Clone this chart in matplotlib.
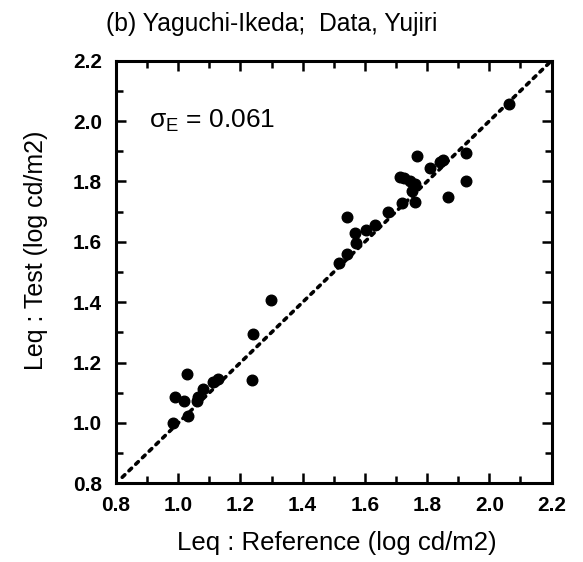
import matplotlib
matplotlib.use("Agg")
import matplotlib.pyplot as plt
from matplotlib.ticker import MultipleLocator

plt.rcParams['font.family'] = ['Liberation Sans', 'DejaVu Sans']

title = "(b) Yaguchi-Ikeda;  Data, Yujiri"
xlabel = "Leq : Reference (log cd/m2)"
ylabel = "Leq : Test (log cd/m2)"
sigma_text = r"$\mathregular{\sigma_E}$ = 0.061"

ref_vals = [2.064, 1.766, 1.925, 1.925, 1.868, 1.852, 1.809, 1.841, 1.713, 1.725,
            1.745, 1.760, 1.752, 1.761, 1.718, 1.675, 1.632, 1.605, 1.541, 1.568,
            1.573, 1.541, 1.518, 1.297, 1.241, 1.238, 1.129, 1.113, 1.081, 1.065,
            1.060, 1.029, 0.990, 1.018, 0.982, 1.032]
test_vals = [2.055, 1.884, 1.893, 1.800, 1.749, 1.871, 1.843, 1.865, 1.816, 1.810,
             1.800, 1.790, 1.770, 1.733, 1.727, 1.698, 1.656, 1.639, 1.683, 1.630,
             1.595, 1.558, 1.531, 1.407, 1.295, 1.142, 1.144, 1.137, 1.111, 1.087,
             1.072, 1.161, 1.087, 1.074, 1.001, 1.023]

line_range = [0.82, 2.2]

fig = plt.figure(figsize=(5.83, 5.62), dpi=100)
ax = fig.add_axes([0.199, 0.14, 0.747, 0.752])

ax.plot(line_range, line_range, color='black', linestyle=(0, (1, 1.6)), linewidth=2.6,
        dash_capstyle='round')
ax.scatter(ref_vals, test_vals, s=58, color='black', zorder=3)

ax.set_xlim(0.8, 2.2)
ax.set_ylim(0.8, 2.2)
ax.xaxis.set_major_locator(MultipleLocator(0.2))
ax.yaxis.set_major_locator(MultipleLocator(0.2))
ax.xaxis.set_minor_locator(MultipleLocator(0.1))
ax.yaxis.set_minor_locator(MultipleLocator(0.1))
ax.xaxis.set_major_formatter(plt.FormatStrFormatter('%.1f'))
ax.yaxis.set_major_formatter(plt.FormatStrFormatter('%.1f'))
ax.tick_params(which='both', direction='in', top=True, right=True, width=1.8, labelsize=15)
ax.tick_params(which='major', length=7)
ax.tick_params(which='minor', length=5)
ax.tick_params(axis='y', pad=10)
ax.tick_params(axis='x', pad=9)
for lab in ax.get_xticklabels() + ax.get_yticklabels():
    lab.set_fontweight('bold')
for s in ax.spines.values():
    s.set_linewidth(2.2)

ax.text(0.905, 2.0, sigma_text, fontsize=19, va='center', ha='left')

fig.text(272 / 583, 1 - 24 / 562, title, fontsize=17.8, ha='center', va='center')
ax.set_xlabel(xlabel, fontsize=18.5)
ax.xaxis.set_label_coords((337 - 116) / 435.7, -(543 - 483.3) / 422.6)
ax.xaxis.label.set_va('center')
ax.set_ylabel(ylabel, fontsize=18)
ax.yaxis.set_label_coords(-(116 - 36) / 435.7, (483.3 - 250) / 422.6)
ax.yaxis.label.set_va('center')

fig.savefig("out.png", dpi=100, facecolor='white')
